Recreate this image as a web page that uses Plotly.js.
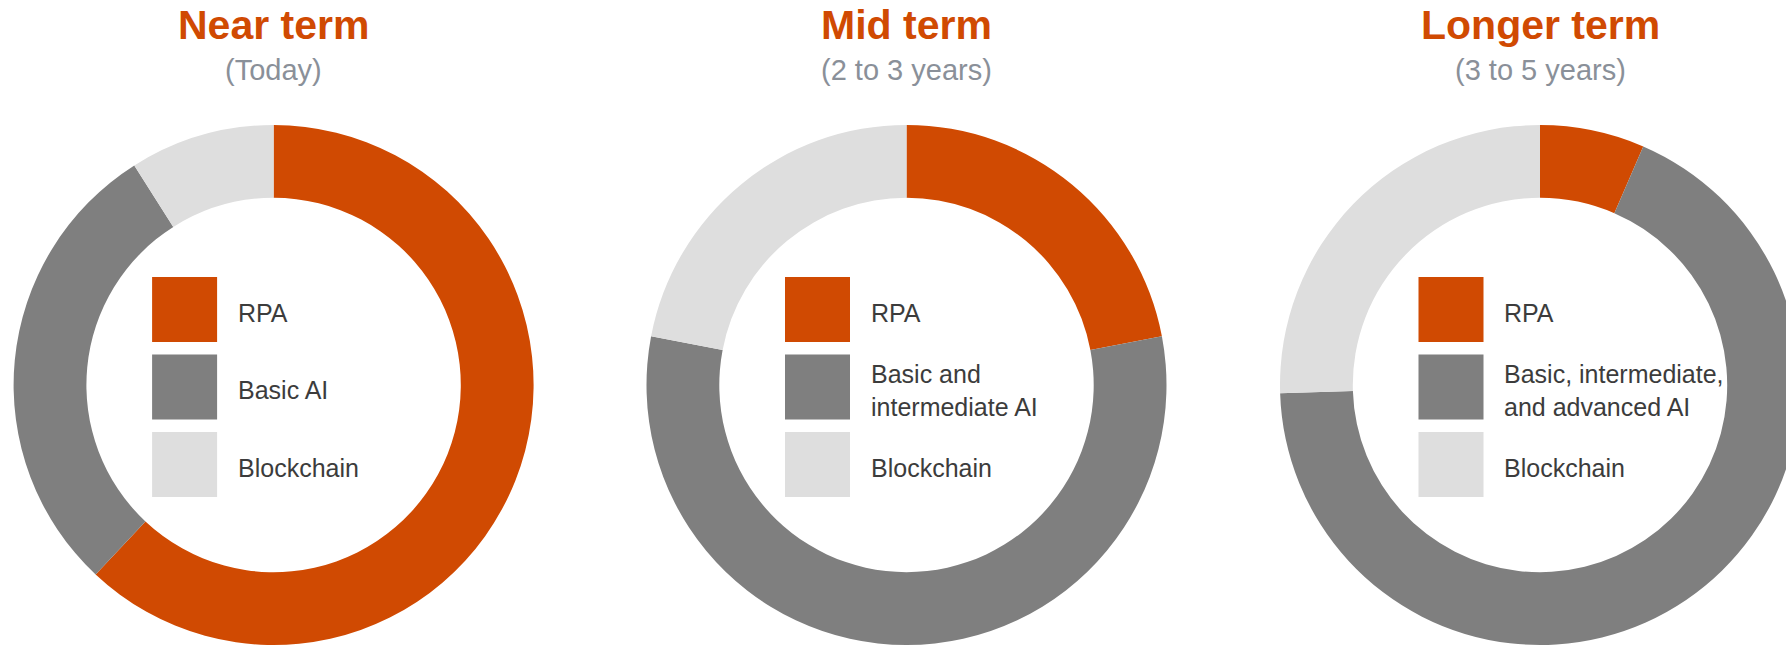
<!DOCTYPE html>
<html>
<head>
<meta charset="utf-8">
<script src="https://cdn.plot.ly/plotly-3.0.1.min.js"></script>
<style>
  html, body { margin: 0; padding: 0; overflow: hidden; background: #ffffff; }
  #chart { width: 1860px; height: 720px; }
</style>
</head>
<body>
<div id="chart"></div>
<script>
// ---- data ----
const termTitles = ["Near term", "Mid term", "Longer term"];
const termSubtitles = ["(Today)", "(2 to 3 years)", "(3 to 5 years)"];
const rpaLabel = "RPA";
const aiLabels = ["Basic AI", "Basic and<br>intermediate AI", "Basic, intermediate,<br>and advanced AI"];
const blockchainLabel = "Blockchain";
const rpaShare = [62, 22, 6.5];
const aiShare = [29, 56, 68];
const blockchainShare = [9, 22, 25.5];
const sliceColors = ["#D04A02", "#7F7F7F", "#DEDEDE"];

// ---- layout geometry (pixels, top-left origin) ----
const W = 1860, H = 720;
const centersX = [273.6, 906.5, 1540];
const centerY = 385;
const R = 260;
const fx = x => x / W;
const fy = y => 1 - y / H;
const FONT = "Liberation Sans, Arial, Helvetica, sans-serif";

const traces = [];
const annotations = [];
const shapes = [];

for (let i = 0; i < 3; i++) {
  const cx = centersX[i];
  const labels = [rpaLabel, aiLabels[i], blockchainLabel];
  traces.push({
    type: "pie",
    values: [rpaShare[i], aiShare[i], blockchainShare[i]],
    labels: labels,
    marker: { colors: sliceColors, line: { width: 0 } },
    hole: 0.72,
    sort: false,
    direction: "clockwise",
    rotation: 0,
    textinfo: "none",
    hoverinfo: "label+value",
    showlegend: false,
    domain: {
      x: [fx(cx - R), fx(cx + R)],
      y: [fy(centerY + R), fy(centerY - R)]
    }
  });

  // titles
  annotations.push({
    xref: "paper", yref: "paper",
    x: fx(cx), y: fy(25), xanchor: "center", yanchor: "middle",
    text: "<b>" + termTitles[i] + "</b>", showarrow: false,
    font: { family: FONT, size: 41, color: "#D04A02" }
  });
  annotations.push({
    xref: "paper", yref: "paper",
    x: fx(cx), y: fy(70), xanchor: "center", yanchor: "middle",
    text: termSubtitles[i], showarrow: false,
    font: { family: FONT, size: 29, color: "#8A9099" }
  });

  // legend swatches + texts
  const sqLeft = cx - 121.5, sq = 65, pitch = 77.5, top0 = 277;
  for (let k = 0; k < 3; k++) {
    const t = top0 + k * pitch;
    shapes.push({
      type: "rect", xref: "paper", yref: "paper",
      x0: fx(sqLeft), x1: fx(sqLeft + sq),
      y0: fy(t + sq), y1: fy(t),
      fillcolor: sliceColors[k], line: { width: 0 }
    });
    annotations.push({
      xref: "paper", yref: "paper",
      x: fx(cx - 38), y: fy(t + sq / 2 + 3), xanchor: "left", yanchor: "middle",
      align: "left",
      text: labels[k], showarrow: false,
      font: { family: FONT, size: 25, color: "#3C3C3C" }
    });
  }
}

const layout = {
  width: W, height: H,
  margin: { l: 0, r: 0, t: 0, b: 0, pad: 0 },
  paper_bgcolor: "#ffffff",
  plot_bgcolor: "#ffffff",
  showlegend: false,
  annotations: annotations,
  shapes: shapes
};

Plotly.newPlot("chart", traces, layout, { displayModeBar: false, staticPlot: true });
</script>
</body>
</html>
